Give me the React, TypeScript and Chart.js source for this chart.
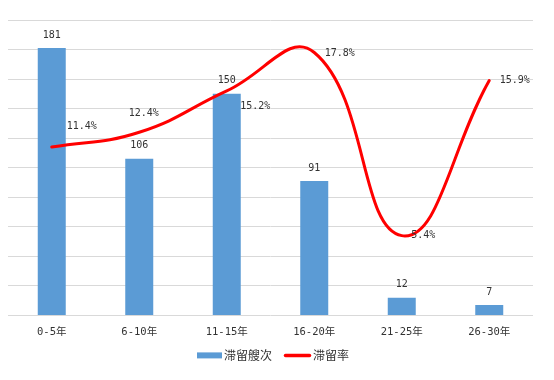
import { useEffect, useRef } from "react";
import { Chart, registerables } from "chart.js";

Chart.register(...registerables);

const categories = ["0-5年", "6-10年", "11-15年", "16-20年", "21-25年", "26-30年"];
const countValues = [181, 106, 150, 91, 12, 7];
const rateValues = [11.4, 12.4, 15.2, 17.8, 5.4, 15.9];
const seriesNames = ["滞留艘次", "滞留率"];
const countAxis = { min: 0, max: 200, step: 20 };
const rateAxis = { min: 0, max: 20 };

// label placement (layout only)
const rateLabelOffsets = [
  [30, -21],
  [4.5, -19],
  [28.5, 16],
  [25.5, 1],
  [21.5, 0],
  [25.5, 0],
];

const BAR_COLOR = "#5B9BD5";
const LINE_COLOR = "#FF0000";
const TEXT_COLOR = "#333333";
const NUM_FONT = "10px 'DejaVu Sans Mono', 'Noto Sans CJK SC'";

const labelsPlugin = {
  id: "valueLabels",
  afterDatasetsDraw(chart: any) {
    const ctx = chart.ctx;
    ctx.save();
    ctx.font = NUM_FONT;
    ctx.fillStyle = TEXT_COLOR;
    ctx.textAlign = "center";
    ctx.textBaseline = "middle";
    const barMeta = chart.getDatasetMeta(0);
    barMeta.data.forEach((el: any, i: number) => {
      ctx.fillText(String(countValues[i]), el.x, el.y - 13);
    });
    const lineMeta = chart.getDatasetMeta(1);
    lineMeta.data.forEach((el: any, i: number) => {
      const [dx, dy] = rateLabelOffsets[i];
      ctx.fillText(rateValues[i].toFixed(1) + "%", el.x + dx, el.y + dy);
    });
    ctx.restore();
  },
};

const legendPlugin = {
  id: "customLegend",
  afterDraw(chart: any) {
    const ctx = chart.ctx;
    const area = chart.chartArea;
    ctx.save();
    ctx.font = "12px 'Noto Sans CJK SC'";
    ctx.textBaseline = "middle";
    ctx.textAlign = "left";
    const y = area.bottom + 40;
    const t1 = ctx.measureText(seriesNames[0]).width;
    const t2 = ctx.measureText(seriesNames[1]).width;
    const sw1 = 25, sw2 = 27, gapText = 2, gapItem = 12;
    const total = sw1 + gapText + t1 + gapItem + sw2 + gapText + t2;
    let x = (area.left + area.right) / 2 + 2.5 - total / 2;
    ctx.fillStyle = BAR_COLOR;
    ctx.fillRect(x, y - 3, sw1, 6);
    x += sw1 + gapText;
    ctx.fillStyle = TEXT_COLOR;
    ctx.fillText(seriesNames[0], x, y);
    x += t1 + gapItem;
    ctx.strokeStyle = LINE_COLOR;
    ctx.lineWidth = 3.5;
    ctx.lineCap = "round";
    ctx.beginPath();
    ctx.moveTo(x + 1.5, y);
    ctx.lineTo(x + sw2 - 1.5, y);
    ctx.stroke();
    x += sw2 + gapText;
    ctx.fillStyle = TEXT_COLOR;
    ctx.fillText(seriesNames[1], x, y);
    ctx.restore();
  },
};

export default function App() {
  const ref = useRef<HTMLCanvasElement | null>(null);
  useEffect(() => {
    if (!ref.current) return;
    const chart = new Chart(ref.current, {
      type: "bar",
      data: {
        labels: categories,
        datasets: [
          {
            type: "bar",
            label: seriesNames[0],
            data: countValues,
            backgroundColor: BAR_COLOR,
            categoryPercentage: 1,
            barPercentage: 0.32,
            yAxisID: "y",
            order: 1,
          } as any,
          {
            type: "line",
            label: seriesNames[1],
            data: rateValues,
            borderColor: LINE_COLOR,
            backgroundColor: LINE_COLOR,
            borderWidth: 3,
            tension: 0.45,
            pointRadius: 0,
            borderCapStyle: "round",
            yAxisID: "y1",
            order: 0,
          } as any,
        ],
      },
      options: {
        responsive: false,
        animation: false,
        layout: { padding: { left: 8, right: 21, top: 20, bottom: 30 } },
        plugins: { legend: { display: false }, tooltip: { enabled: false } },
        scales: {
          x: {
            grid: { display: false, drawTicks: false },
            border: { display: false },
            ticks: {
              color: TEXT_COLOR,
              font: { family: "'DejaVu Sans Mono', 'Noto Sans CJK SC'", size: 10.5 },
              padding: 11,
              maxRotation: 0,
            },
          },
          y: {
            min: countAxis.min,
            max: countAxis.max,
            ticks: { display: false, stepSize: countAxis.step },
            grid: { color: "#d9d9d9", lineWidth: 1, drawTicks: false },
            border: { display: false },
          },
          y1: {
            display: false,
            position: "right",
            min: rateAxis.min,
            max: rateAxis.max,
          },
        },
      },
      plugins: [labelsPlugin, legendPlugin],
    });
    return () => chart.destroy();
  }, []);
  return (
    <div style={{ position: "absolute", left: 0, top: 0, width: 554, height: 380, background: "#fff" }}>
      <canvas ref={ref} width={554} height={380} style={{ display: "block" }} />
    </div>
  );
}
